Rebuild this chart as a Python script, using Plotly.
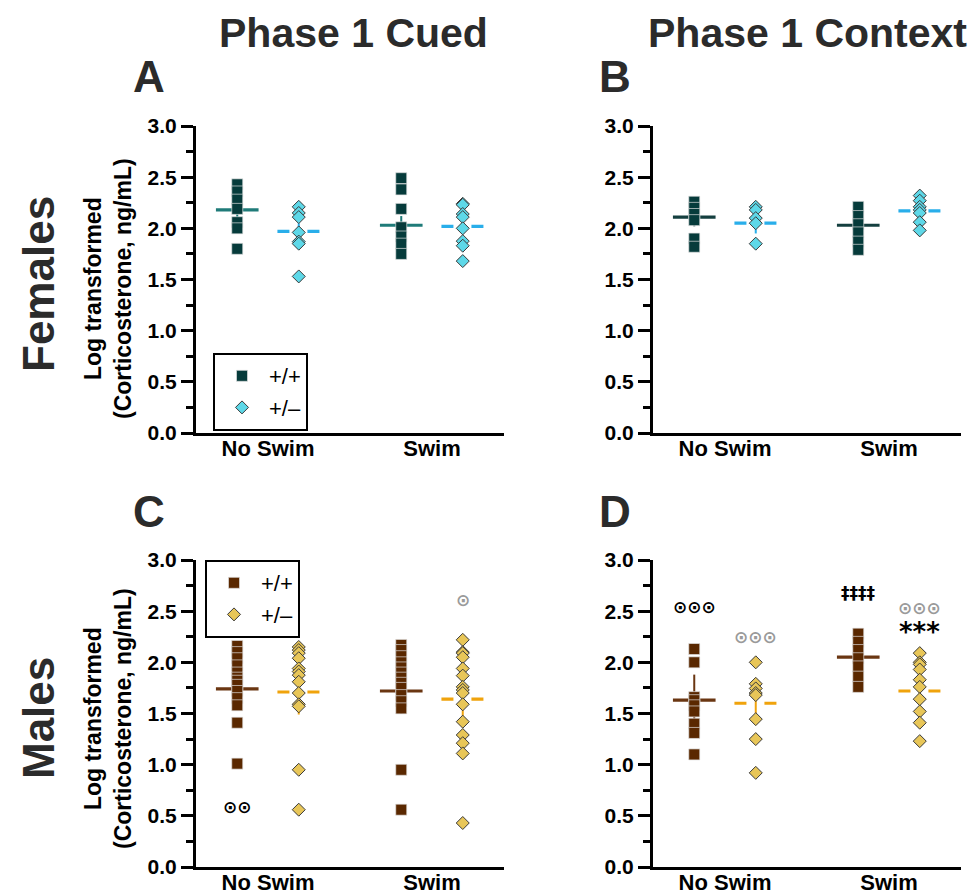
import plotly.graph_objects as go

# ---------------- data (log transformed corticosterone) ----------------
groups = ["No Swim", "Swim"]
genotypes = ["+/+", "+/–"]

# Panel A: Females, Phase 1 Cued
A_ns_wt = [2.43, 2.36, 2.28, 2.19, 2.06, 2.00, 1.80]
A_ns_het = [2.21, 2.15, 2.11, 1.96, 1.87, 1.85, 1.53]
A_sw_wt = [2.49, 2.38, 2.19, 2.01, 1.92, 1.85, 1.75]
A_sw_het = [2.24, 2.23, 2.14, 2.11, 2.00, 1.875, 1.83, 1.68]
A_means = [2.18, 1.97, 2.03, 2.02]
A_errs = [0.07, 0.08, 0.09, 0.07]

# Panel B: Females, Phase 1 Context
B_ns_wt = [2.26, 2.20, 2.14, 2.08, 1.90, 1.82]
B_ns_het = [2.21, 2.18, 2.10, 2.05, 1.85]
B_sw_wt = [2.21, 2.12, 2.04, 1.96, 1.87, 1.79]
B_sw_het = [2.32, 2.27, 2.21, 2.18, 2.15, 2.06, 1.98]
B_means = [2.11, 2.05, 2.03, 2.17]
B_errs = [0.09, 0.10, 0.06, 0.05]

# Panel C: Males, Phase 1 Cued
C_ns_wt = [2.16, 2.10, 2.04, 1.97, 1.90, 1.85, 1.82, 1.78, 1.72, 1.65, 1.58, 1.41, 1.01]
C_ns_het = [2.15, 2.12, 2.09, 2.04, 1.94, 1.91, 1.875, 1.81, 1.70, 1.59, 1.57, 0.95, 0.56]
C_sw_wt = [2.17, 2.12, 2.06, 2.00, 1.95, 1.90, 1.85, 1.80, 1.75, 1.68, 1.62, 1.55, 0.95, 0.56]
C_sw_het = [2.22, 2.10, 2.09, 2.05, 1.94, 1.87, 1.76, 1.73, 1.70, 1.59, 1.42, 1.29, 1.21, 1.11, 0.43]
C_means = [1.74, 1.71, 1.72, 1.64]
C_errs = [0.19, 0.22, 0.22, 0.17]

# Panel D: Males, Phase 1 Context
D_ns_wt = [2.13, 2.00, 1.66, 1.63, 1.58, 1.52, 1.40, 1.31, 1.10]
D_ns_het = [2.00, 1.79, 1.745, 1.70, 1.68, 1.445, 1.25, 0.92]
D_sw_wt = [2.28, 2.20, 2.12, 2.04, 1.96, 1.86, 1.76]
D_sw_het = [2.09, 2.00, 1.98, 1.93, 1.83, 1.76, 1.64, 1.52, 1.41, 1.23]
D_means = [1.63, 1.60, 2.05, 1.72]
D_errs = [0.25, 0.10, 0.08, 0.08]

# significance marks: (panel, group index, genotype index, y value, text, colour)
sig_marks = [
    ("C", 0, 0, 0.59, "⊙⊙", "black"),
    ("C", 1, 1, 2.61, "⊙", "#9a9a9a"),
    ("D", 0, 0, 2.54, "⊙⊙⊙", "black"),
    ("D", 0, 1, 2.25, "⊙⊙⊙", "#9a9a9a"),
    ("D", 1, 0, 2.68, "‡‡‡‡", "black"),
    ("D", 1, 1, 2.53, "⊙⊙⊙", "#9a9a9a"),
    ("D", 1, 1, 2.35, "***", "black"),
]

# ---------------- styling ----------------
W, H = 971, 895
FONT = "Liberation Sans, Arial, sans-serif"
GROUP_POS = [1.0, 3.0]
OFFSET = 0.375
HALF = 0.26

panels = {
    "A": dict(data=[A_ns_wt, A_ns_het, A_sw_wt, A_sw_het], means=A_means, errs=A_errs,
              ax="", px=(196, 504), py=(126, 433),
              colors=dict(wt="#063b3b", het="#5ed8e8", wtline="#1f7b79", hetline="#29aeea")),
    "B": dict(data=[B_ns_wt, B_ns_het, B_sw_wt, B_sw_het], means=B_means, errs=B_errs,
              ax="2", px=(653, 961), py=(126, 433),
              colors=dict(wt="#063b3b", het="#5ed8e8", wtline="#143f3f", hetline="#29aeea")),
    "C": dict(data=[C_ns_wt, C_ns_het, C_sw_wt, C_sw_het], means=C_means, errs=C_errs,
              ax="3", px=(196, 504), py=(560, 867),
              colors=dict(wt="#5a2800", het="#e8c658", wtline="#6a3612", hetline="#f0a30c")),
    "D": dict(data=[D_ns_wt, D_ns_het, D_sw_wt, D_sw_het], means=D_means, errs=D_errs,
              ax="4", px=(653, 961), py=(560, 867),
              colors=dict(wt="#5a2800", het="#e8c658", wtline="#6a3612", hetline="#f0a30c")),
}

fig = go.Figure()

for name, p in panels.items():
    xa, ya = "x" + p["ax"], "y" + p["ax"]
    c = p["colors"]
    # mean lines + error bars (underneath markers)
    for k in range(4):
        gi, ge = k // 2, k % 2
        xc = GROUP_POS[gi] + (OFFSET if ge else -OFFSET)
        m = p["means"][k]
        lc = c["hetline"] if ge else c["wtline"]
        fig.add_trace(go.Scatter(
            x=[xc], y=[m], mode="markers", marker=dict(size=1, color="rgba(0,0,0,0)"),
            error_y=dict(type="data", array=[p["errs"][k]], color=lc, thickness=2, width=0),
            xaxis=xa, yaxis=ya, showlegend=False, hoverinfo="skip"))
        fig.add_trace(go.Scatter(
            x=[xc - HALF, xc + HALF], y=[m, m], mode="lines",
            line=dict(color=lc, width=3.2, dash=("12px,18px" if ge else "solid")),
            xaxis=xa, yaxis=ya, showlegend=False, hoverinfo="skip"))
    # points
    for k in range(4):
        gi, ge = k // 2, k % 2
        xc = GROUP_POS[gi] + (OFFSET if ge else -OFFSET)
        vals = p["data"][k]
        if ge == 0:
            mk = dict(symbol="square", size=11, color=c["wt"],
                      line=dict(color="rgba(225,225,225,0.85)", width=0.8))
        else:
            mk = dict(symbol="diamond", size=10, color=c["het"],
                      line=dict(color="#3a3a3a", width=1))
        show = name in ("A", "C") and gi == 0
        fig.add_trace(go.Scatter(
            x=[xc] * len(vals), y=vals, mode="markers", marker=mk,
            name=genotypes[ge], xaxis=xa, yaxis=ya, showlegend=show,
            legend=("legend" if name == "A" else "legend2")))

layout = dict(width=W, height=H, margin=dict(l=0, r=0, t=0, b=0, autoexpand=False),
              paper_bgcolor="white", plot_bgcolor="white",
              font=dict(family=FONT, color="black"))

for name, p in panels.items():
    sfx = p["ax"]
    x0, x1 = p["px"]
    y0, y1 = p["py"]
    layout["xaxis" + sfx] = dict(
        domain=[x0 / W, x1 / W], range=[0.122, 3.878], anchor="y" + sfx, automargin=False,
        showline=True, linewidth=2.5, linecolor="black", showgrid=False, zeroline=False,
        tickmode="array", tickvals=GROUP_POS, ticktext=groups, ticks="",
        ticklabelstandoff=-6,
        tickfont=dict(size=22, weight="bold", family=FONT, color="black"), fixedrange=True)
    layout["yaxis" + sfx] = dict(
        domain=[1 - y1 / H, 1 - y0 / H], range=[0, 3], anchor="x" + sfx, automargin=False,
        showline=True, linewidth=3, linecolor="black", showgrid=False, zeroline=False,
        tickmode="linear", tick0=0, dtick=0.5, tickformat=".1f",
        ticks="outside", ticklen=12, tickwidth=3, tickcolor="black",
        minor=dict(dtick=0.25, ticks="outside", ticklen=7, tickwidth=3, tickcolor="black"),
        tickfont=dict(size=21, weight="bold", family=FONT, color="black"), fixedrange=True)

legend_common = dict(bordercolor="black", borderwidth=2, bgcolor="white",
                     font=dict(size=22, family=FONT, color="black"),
                     xanchor="left", yanchor="top", itemwidth=44, tracegroupgap=0)
layout["legend"] = dict(x=213 / W, y=1 - 353 / H, **legend_common)
layout["legend2"] = dict(x=205 / W, y=1 - 560 / H, **legend_common)

annots = []
TITLE = "#2b2b2b"
for txt, xc in (("Phase 1 Cued", 353), ("Phase 1 Context", 807)):
    annots.append(dict(text=txt, x=xc / W, y=1 - 33 / H, xref="paper", yref="paper",
                       showarrow=False, xanchor="center", yanchor="middle",
                       font=dict(size=41, weight="bold", color=TITLE, family=FONT)))
for txt, xc, yc in (("A", 149, 76), ("B", 615, 76), ("C", 149, 511), ("D", 615, 511)):
    annots.append(dict(text=txt, x=xc / W, y=1 - yc / H, xref="paper", yref="paper",
                       showarrow=False, xanchor="center", yanchor="middle",
                       font=dict(size=44, weight="bold", color=TITLE, family=FONT)))
for txt, yc in (("Females", 284), ("Males", 718)):
    annots.append(dict(text=txt, x=38 / W, y=1 - yc / H, xref="paper", yref="paper",
                       showarrow=False, textangle=-90, xanchor="center", yanchor="middle",
                       font=dict(size=44, weight="bold", color=TITLE, family=FONT)))
# y-axis titles for the left column
for yc in (289, 719):
    annots.append(dict(text="Log transformed<br>(Corticosterone, ng/mL)",
                       x=108 / W, y=1 - yc / H, xref="paper", yref="paper",
                       showarrow=False, textangle=-90, xanchor="center", yanchor="middle",
                       font=dict(size=23, weight="bold", color="black", family=FONT)))
for pn, gi, ge, yv, txt, col in sig_marks:
    sfx = panels[pn]["ax"]
    xc = GROUP_POS[gi] + (OFFSET if ge else -OFFSET)
    is_star = txt.startswith("*")
    annots.append(dict(text=txt, x=xc, y=yv, xref="x" + sfx, yref="y" + sfx,
                       showarrow=False, xanchor="center", yanchor="middle",
                       yshift=(-5 if is_star else 0),
                       font=dict(size=(26 if is_star else 17), color=col,
                                 family="DejaVu Sans", weight="bold")))
layout["annotations"] = annots

fig.update_layout(**layout)
fig.write_html("out.html", config={"displayModeBar": False},
               post_script="document.body.style.margin='0';")
